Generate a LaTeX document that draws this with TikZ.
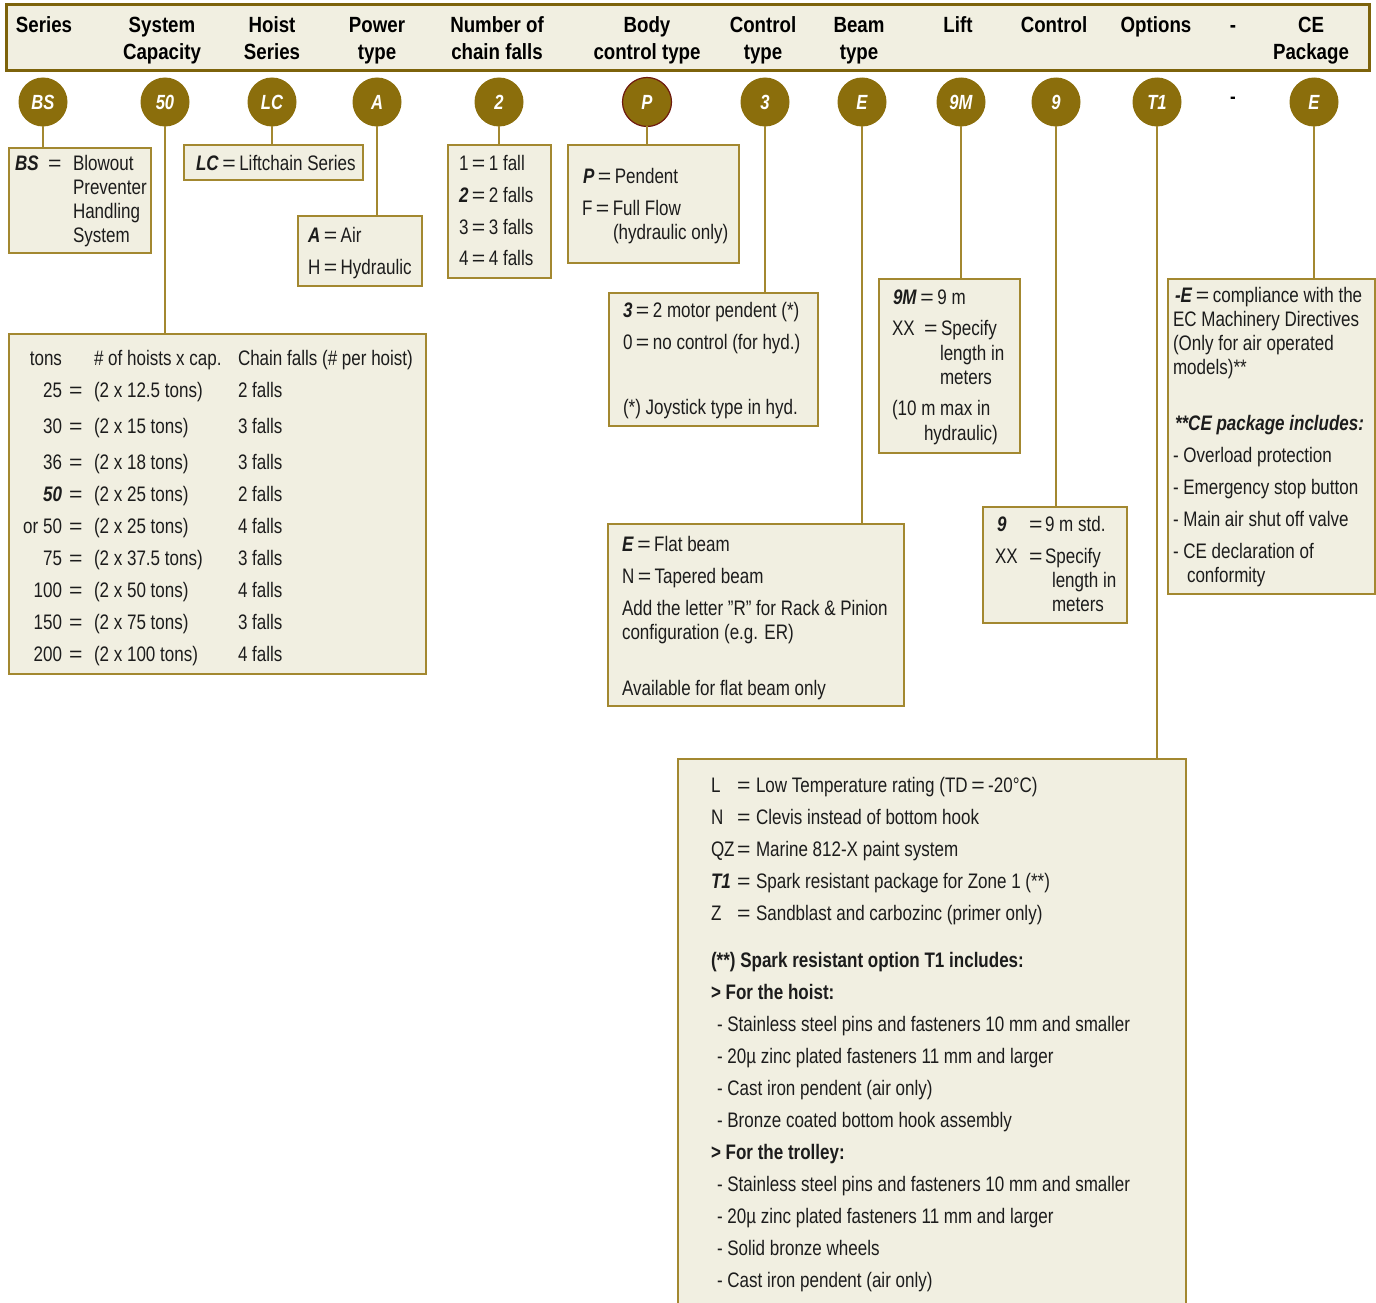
\documentclass[tikz,border=0pt]{standalone}
\usepackage{graphicx}
\usepackage{fontspec}
\setmainfont{Liberation Sans}[FakeStretch=0.81]
\newfontfamily\hdrfont{Liberation Sans}[FakeStretch=0.85]
\definecolor{gold}{RGB}{139,110,12}
\definecolor{boxline}{RGB}{163,136,48}
\definecolor{boxfill}{RGB}{241,239,225}
\definecolor{txtc}{RGB}{28,28,28}
\definecolor{pred}{RGB}{110,25,15}
\newcounter{tnode}
\newcommand\tx[3]{\stepcounter{tnode}\node[txt] (tx\thetnode) at (#1,#2) {#3};}
\newcommand\txr[3]{\stepcounter{tnode}\node[txt,anchor=base east] (tx\thetnode) at (#1,#2) {#3};}
\newcommand\hd[3]{\stepcounter{tnode}\node[hdrtxt] (hd\thetnode) at (#1,#2) {#3};}
\newcommand\bx[5]{\node[infobox,minimum width={(#4-#2)*1pt},minimum height={(#5-#3)*1pt},anchor=north west] (#1) at (#2,#3) {};}
\newcommand\bi[1]{\textbf{\textit{#1}}}
\newcommand\eqs{\scalebox{1.35}[1]{=}}
\newcommand\eq{\kern3.5pt\eqs\kern3.5pt}
\begin{document}
\begin{tikzpicture}[x=1pt,y=-1pt,
  txt/.style={anchor=base west,inner sep=0pt,outer sep=0pt,text=txtc,font=\fontsize{21}{24}\selectfont},
  hdrtxt/.style={anchor=base,inner sep=0pt,text=black,font=\hdrfont\fontsize{22}{24}\selectfont\bfseries},
  infobox/.style={draw=boxline,fill=boxfill,line width=1.8pt,inner sep=0pt,outer sep=0pt},
  circ/.style={circle,fill=gold,minimum size=49pt,inner sep=0pt,outer sep=0pt,text=white,font=\fontsize{20.5}{20}\selectfont\bfseries\itshape},
  conn/.style={draw=boxline,line width=1.8pt}]
\clip (0,0) rectangle (1376,1303);
% header
\node[draw=gold!90!black,fill=boxfill,line width=3pt,minimum width=1363pt,minimum height=66pt,inner sep=0pt,anchor=north west] (hdr) at (5,3) {};
\hd{44}{33}{Series}
\hd{162}{33}{System}\hd{162}{60}{Capacity}
\hd{272}{33}{Hoist}\hd{272}{60}{Series}
\hd{377}{33}{Power}\hd{377}{60}{type}
\hd{497}{33}{Number of}\hd{497}{60}{chain falls}
\hd{647}{33}{Body}\hd{647}{60}{control type}
\hd{763}{33}{Control}\hd{763}{60}{type}
\hd{859}{33}{Beam}\hd{859}{60}{type}
\hd{958}{33}{Lift}
\hd{1054}{33}{Control}
\hd{1156}{33}{Options}
\hd{1233}{33}{-}
\hd{1311}{33}{CE}\hd{1311}{60}{Package}
% circles
\node[circ] (cBS) at (43,102) {BS};
\node[circ] (c50) at (165,102) {50};
\node[circ] (cLC) at (272,102) {LC};
\node[circ] (cA) at (377,102) {A};
\node[circ] (c2) at (499,102) {2};
\node[circ,draw=pred,line width=1.2pt] (cP) at (647,102) {P};
\node[circ] (c3) at (765,102) {3};
\node[circ] (cE) at (862,102) {E};
\node[circ] (c9M) at (961,102) {9M};
\node[circ] (c9) at (1056,102) {9};
\node[circ] (cT1) at (1157,102) {T1};
\node[inner sep=0pt,font=\hdrfont\fontsize{20}{20}\selectfont\bfseries] (cdash) at (1233,100) {-};
\node[circ] (cCE) at (1314,102) {E};
% boxes
\bx{bBS}{9}{148}{151}{253}
\bx{bCap}{9}{334}{426}{674}
\bx{bLC}{184}{145}{363}{180}
\bx{bA}{298}{216}{422}{286}
\bx{bN}{448}{145}{551}{278}
\bx{bP}{568}{145}{739}{263}
\bx{b3}{609}{293}{818}{426}
\bx{bE}{608}{524}{904}{706}
\bx{b9M}{879}{279}{1020}{453}
\bx{b9}{983}{507}{1127}{623}
\bx{bCE}{1168}{279}{1375}{594}
\bx{bT1}{678}{759}{1186}{1340}
% connectors
\foreach \c/\b in {cBS/bBS,c50/bCap,cLC/bLC,cA/bA,c2/bN,cP/bP,c3/b3,cE/bE,c9M/b9M,c9/b9,cT1/bT1,cCE/bCE}
  \draw[conn] (\c.south) -- (\c.south |- \b.north);
% BS box
\tx{15}{170}{\bi{BS}}\tx{48}{170}{\eqs}
\tx{73}{170}{Blowout}\tx{73}{194}{Preventer}\tx{73}{218}{Handling}\tx{73}{242}{System}
% LC box
\tx{196}{170}{\bi{LC}\eq Liftchain Series}
% A box
\tx{308}{242}{\bi{A}\eq Air}
\tx{308}{274}{H\eq Hydraulic}
% falls box
\tx{459}{170}{1\eq 1 fall}
\tx{459}{202}{\bi{2}\eq 2 falls}
\tx{459}{234}{3\eq 3 falls}
\tx{459}{265}{4\eq 4 falls}
% P box
\tx{583}{183}{\bi{P}\eq Pendent}
\tx{582}{215}{F\eq Full Flow}
\tx{613}{239}{(hydraulic only)}
% 3 box
\tx{623}{317}{\bi{3}\eq 2 motor pendent (*)}
\tx{623}{349}{0\eq no control (for hyd.)}
\tx{623}{414}{(*) Joystick type in hyd.}
% E box
\tx{622}{551}{\bi{E}\eq Flat beam}
\tx{622}{583}{N\eq Tapered beam}
\tx{622}{615}{Add the letter "R" for Rack \& Pinion}
\tx{622}{639}{configuration (e.g. ER)}
\tx{622}{695}{Available for flat beam only}
% 9M box
\tx{893}{304}{\bi{9M}\eq 9 m}
\tx{892}{335}{XX}\tx{924}{335}{\eqs}\tx{941}{335}{Specify}
\tx{940}{360}{length in}
\tx{940}{384}{meters}
\tx{892}{415}{(10 m max in}
\tx{924}{440}{hydraulic)}
% 9 box
\tx{997}{531}{\bi{9}}\tx{1029}{531}{\eqs}\tx{1045}{531}{9 m std.}
\tx{995}{563}{XX}\tx{1029}{563}{\eqs}\tx{1045}{563}{Specify}
\tx{1052}{587}{length in}
\tx{1052}{611}{meters}
% CE box
\tx{1175}{302}{\bi{-E}\eq compliance with the}
\tx{1173}{326}{EC Machinery Directives}
\tx{1173}{350}{(Only for air operated}
\tx{1173}{374}{models)**}
\tx{1175}{430}{\bi{**CE package includes:}}
\tx{1173}{462}{- Overload protection}
\tx{1173}{494}{- Emergency stop button}
\tx{1173}{526}{- Main air shut off valve}
\tx{1173}{558}{- CE declaration of}
\tx{1187}{582}{conformity}
% capacity table
\txr{62}{365}{tons}\tx{94}{365}{\# of hoists x cap.}\tx{238}{365}{Chain falls (\# per hoist)}
\foreach \y/\n/\c/\f in {397/25/12.5/2,433/30/15/3,469/36/18/3,533/or 50/25/4,565/75/37.5/3,597/100/50/4,629/150/75/3,661/200/100/4}{
  \txr{62}{\y}{\n}\tx{69}{\y}{\eqs}\tx{94}{\y}{(2 x \c\ tons)}\tx{238}{\y}{\f\ falls}}
\txr{62}{501}{\bi{50}}\tx{69}{501}{\eqs}\tx{94}{501}{(2 x 25 tons)}\tx{238}{501}{2 falls}
% T1 box
\tx{711}{792}{L}\tx{737}{792}{\eqs}\tx{756}{792}{Low Temperature rating (TD\eq -20°C)}
\tx{711}{824}{N}\tx{737}{824}{\eqs}\tx{756}{824}{Clevis instead of bottom hook}
\tx{711}{856}{QZ}\tx{737}{856}{\eqs}\tx{756}{856}{Marine 812-X paint system}
\tx{711}{888}{\bi{T1}}\tx{737}{888}{\eqs}\tx{756}{888}{Spark resistant package for Zone 1 (**)}
\tx{711}{920}{Z}\tx{737}{920}{\eqs}\tx{756}{920}{Sandblast and carbozinc (primer only)}
\tx{711}{967}{\textbf{(**) Spark resistant option T1 includes:}}
\tx{711}{999}{\textbf{> For the hoist:}}
\tx{717}{1031}{- Stainless steel pins and fasteners 10 mm and smaller}
\tx{717}{1063}{- 20µ zinc plated fasteners 11 mm and larger}
\tx{717}{1095}{- Cast iron pendent (air only)}
\tx{717}{1127}{- Bronze coated bottom hook assembly}
\tx{711}{1159}{\textbf{> For the trolley:}}
\tx{717}{1191}{- Stainless steel pins and fasteners 10 mm and smaller}
\tx{717}{1223}{- 20µ zinc plated fasteners 11 mm and larger}
\tx{717}{1255}{- Solid bronze wheels}
\tx{717}{1287}{- Cast iron pendent (air only)}
\end{tikzpicture}
\end{document}
